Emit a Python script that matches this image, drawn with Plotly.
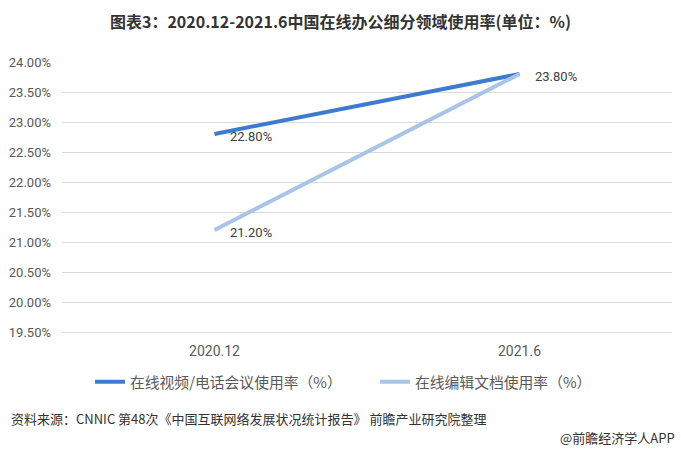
import plotly.graph_objects as go

categories = ["2020.12", "2021.6"]
video_rate = [22.80, 23.80]
doc_rate = [21.20, 23.80]
series_names = ["在线视频/电话会议使用率（%）", "在线编辑文档使用率（%）"]
y_ticks = [19.5, 20.0, 20.5, 21.0, 21.5, 22.0, 22.5, 23.0, 23.5, 24.0]

FONT = "Noto Sans CJK SC"
NUM = "Roboto"
fig = go.Figure()
fig.add_trace(go.Scatter(
    x=categories, y=video_rate, mode="lines", name=series_names[0],
    line=dict(color="#3C7BD0", width=4),
))
fig.add_trace(go.Scatter(
    x=categories, y=doc_rate, mode="lines", name=series_names[1],
    line=dict(color="#A8C5E8", width=4),
))

# data labels (shared end point labelled once)
labels = [(0, video_rate[0]), (1, video_rate[1]), (0, doc_rate[0])]
for ci, v in labels:
    fig.add_annotation(x=ci, y=v, xref="x", yref="y", text=f"{v:.2f}%", showarrow=False,
                       xanchor="left", yanchor="middle", xshift=13, yshift=-2,
                       font=dict(family=NUM, size=13, color="#404040"))

fig.update_layout(
    width=681, height=449,
    paper_bgcolor="white", plot_bgcolor="white",
    margin=dict(l=60, r=9, t=62, b=117),
    title=dict(text="<b>图表3：2020.12-2021.6中国在线办公细分领域使用率(单位：%)</b>",
               x=0.5, xanchor="center", y=0.951, yanchor="middle",
               font=dict(family=FONT, size=16, color="#333333")),
    font=dict(family=FONT, color="#595959"),
    showlegend=True,
    legend=dict(orientation="h", x=(374 - 60) / 612, xanchor="center", y=-0.125, yanchor="top",
                font=dict(family=FONT, size=14.8, color="#595959"),
                entrywidth=240, entrywidthmode="pixels", tracegroupgap=0),
    xaxis=dict(type="category", range=[-0.5, 1.5], showgrid=False,
               showline=True, linecolor="#D9D9D9", linewidth=1,
               ticks="", ticklabelstandoff=6,
               tickfont=dict(family=NUM, size=14, color="#595959"),
               fixedrange=True),
    yaxis=dict(range=[19.5, 24.0], tickvals=y_ticks,
               ticktext=[f"{v:.2f}%" for v in y_ticks],
               showgrid=True, gridcolor="#D9D9D9", gridwidth=1,
               zeroline=False, showline=False, ticks="", ticklabelstandoff=10,
               tickfont=dict(family=NUM, size=13, color="#595959")),
)

fig.add_annotation(text="资料来源：CNNIC 第48次《中国互联网络发展状况统计报告》 前瞻产业研究院整理",
                   xref="paper", yref="paper", x=-53/612, y=-(418-332)/270,
                   xanchor="left", yanchor="middle", showarrow=False,
                   font=dict(family=FONT, size=13, color="#333333"))
fig.add_annotation(text="@前瞻经济学人APP",
                   xref="paper", yref="paper", x=1 + 5/612, y=-(437-332)/270,
                   xanchor="right", yanchor="middle", showarrow=False,
                   font=dict(family=FONT, size=13, color="#333333"))

fig.write_html("out.html")
